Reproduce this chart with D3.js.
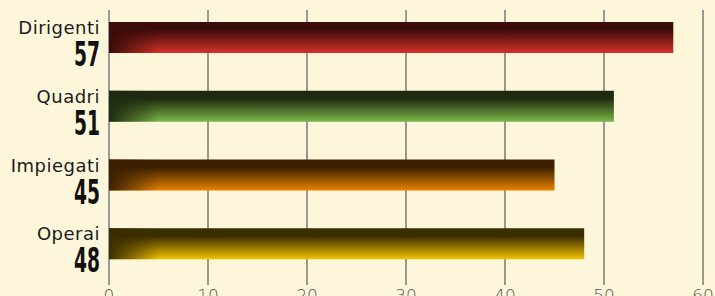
<!DOCTYPE html>
<html>
<head>
<meta charset="utf-8">
<script src="https://cdn.jsdelivr.net/npm/d3@7"></script>
<style>
  body { margin:0; background:#fef6da; overflow:hidden; }
  svg { display:block; }
</style>
</head>
<body>
<div id="chart"></div>
<script>
// dati
var categories = ['Dirigenti', 'Quadri', 'Impiegati', 'Operai'];
var values = [57, 51, 45, 48];
var topColors = ['#3b0c08', '#1f2b10', '#3b2000', '#3a2d00'];
var bottomColors = ['#d3322a', '#7bb648', '#e88200', '#f2c200'];
var ticks = [0, 10, 20, 30, 40, 50, 60];

var W = 715, H = 296;
var svg = d3.select('#chart').append('svg').attr('width', W).attr('height', H);

var x = d3.scaleLinear().domain([0, 60]).range([109, 703]);
var y = d3.scaleBand().domain(categories).range([10, 285]);
var barOff = 12, barH = 31;

var defs = svg.append('defs');
categories.forEach(function(c, i){
    var g = defs.append('linearGradient').attr('id', 'gv' + i)
        .attr('x1', 0).attr('y1', 0).attr('x2', 0).attr('y2', 1);
    g.append('stop').attr('offset', '0%').attr('stop-color', topColors[i]);
    g.append('stop').attr('offset', '25%').attr('stop-color', topColors[i]);
    g.append('stop').attr('offset', '100%').attr('stop-color', bottomColors[i]);
    var h = defs.append('linearGradient').attr('id', 'gh' + i)
        .attr('gradientUnits', 'userSpaceOnUse')
        .attr('x1', x(0)).attr('y1', 0).attr('x2', x(0) + 50).attr('y2', 0);
    h.append('stop').attr('offset', '0%').attr('stop-color', topColors[i]).attr('stop-opacity', 1);
    h.append('stop').attr('offset', '100%').attr('stop-color', topColors[i]).attr('stop-opacity', 0);
});

// griglia
svg.append('g').selectAll('line').data(ticks.slice(1)).enter().append('line')
    .attr('x1', d => x(d)).attr('x2', d => x(d))
    .attr('y1', 10).attr('y2', 285)
    .attr('stroke', '#5a5a5a').attr('stroke-width', 1.2);

svg.append('line')
    .attr('x1', x(0)).attr('x2', x(0)).attr('y1', 10).attr('y2', 285)
    .attr('stroke', '#9a9a9a').attr('stroke-width', 2);

// barre
var bars = svg.append('g');
bars.selectAll('rect.v').data(values).enter().append('rect')
    .attr('x', x(0)).attr('y', (d, i) => y(categories[i]) + barOff)
    .attr('width', d => x(d) - x(0)).attr('height', barH)
    .attr('fill', (d, i) => 'url(#gv' + i + ')');
bars.selectAll('rect.h').data(values).enter().append('rect')
    .attr('x', x(0)).attr('y', (d, i) => y(categories[i]) + barOff)
    .attr('width', d => x(d) - x(0)).attr('height', barH)
    .attr('fill', (d, i) => 'url(#gh' + i + ')');

// etichette
var lab = svg.append('g');
lab.selectAll('text.cat').data(categories).enter().append('text')
    .attr('x', 100).attr('y', d => y(d) + 24)
    .attr('text-anchor', 'end')
    .attr('font-family', '"DejaVu Sans", sans-serif')
    .attr('font-size', 18).attr('letter-spacing', 0.5).attr('fill', '#1a1a1a')
    .text(d => d);
lab.selectAll('text.val').data(values).enter().append('text')
    .attr('x', 100).attr('y', (d, i) => y(categories[i]) + 56)
    .attr('text-anchor', 'end')
    .attr('font-family', '"DejaVu Sans", sans-serif')
    .style('font-stretch', 'condensed')
    .attr('font-weight', 'bold').attr('font-size', 33)
    .attr('textLength', d => String(d).length * 13)
    .attr('lengthAdjust', 'spacingAndGlyphs')
    .attr('fill', '#111')
    .text(d => d);

// asse x
svg.append('g').selectAll('text').data(ticks).enter().append('text')
    .attr('x', d => x(d)).attr('y', 302)
    .attr('text-anchor', 'middle')
    .attr('font-family', '"DejaVu Sans", sans-serif')
    .attr('font-weight', 300)
    .attr('font-size', 17).attr('fill', '#555')
    .text(d => d);
</script>
</body>
</html>
